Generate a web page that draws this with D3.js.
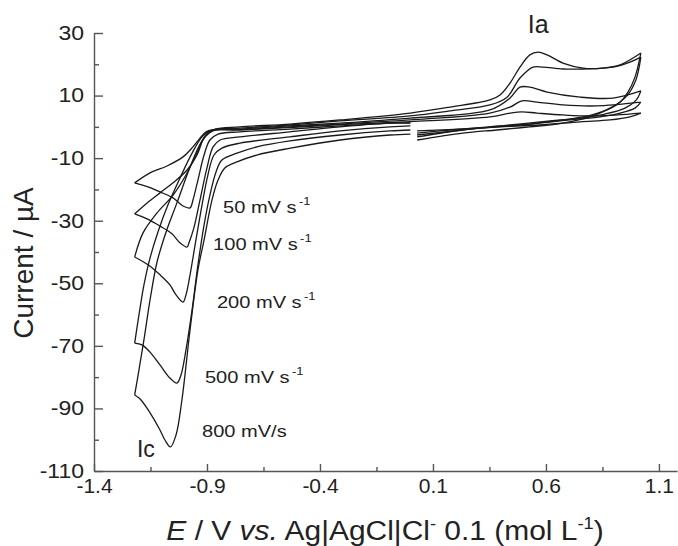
<!DOCTYPE html>
<html>
<head>
<meta charset="utf-8">
<script src="https://cdn.jsdelivr.net/npm/d3@7"></script>
<style>
  body { margin: 0; background: #fff; }
  text { font-family: "Liberation Sans", Arial, Helvetica, sans-serif; fill: #222; }
</style>
</head>
<body>
<svg id="chart" width="678" height="546"></svg>
<script>
// Axis ticks
const xTicks = [-1.4, -0.9, -0.4, 0.1, 0.6, 1.1];
const xMinorTicks = [-1.15, -0.65, -0.15, 0.35, 0.85];
const yTicks = [30, 10, -10, -30, -50, -70, -90, -110];
const yMinorTicks = [20, 0, -20, -40, -60, -80, -100];

// Scan rates (mV/s) and their voltammograms: [E / V, I / µA]
// Each scan starts near 0 V, goes negative to -1.22 V, up to +1.02 V and back.
const scanRates = [50, 100, 200, 500, 800];

const cv50 = [
  [0.00, 1.3], [-0.09, 1.2], [-0.311, 0.3], [-0.533, -0.7], [-0.754, -1.6], [-0.851, -2.3],
  [-0.887, -4.2], [-0.913, -9.0], [-0.940, -17.0], [-0.962, -23.4], [-0.975, -25.9],
  [-1.006, -25.3], [-1.050, -22.7], [-1.108, -20.8], [-1.161, -19.2], [-1.22, -17.9],
  [-1.152, -14.7], [-1.077, -12.5], [-1.006, -9.6], [-0.962, -6.4], [-0.931, -3.6],
  [-0.904, -1.6], [-0.878, -1.0], [-0.754, -0.9], [-0.533, -0.2], [-0.311, 0.7], [0.0, 1.7],
  [0.352, 3.2], [0.441, 4.4], [0.494, 4.8], [0.560, 4.4], [0.675, 3.8], [0.826, 3.5], [1.02, 4.4],
  [0.972, 3.2], [0.883, 2.2], [0.751, 1.6], [0.574, 0.6], [0.397, 0.0], [0.220, -0.7], [0.03, -1.3]
];

const cv100 = [
  [0.00, 1.2], [-0.09, 1.2], [-0.311, 0.0], [-0.533, -1.6], [-0.754, -3.2], [-0.842, -4.2],
  [-0.873, -6.4], [-0.900, -13.1], [-0.931, -23.4], [-0.958, -32.3], [-0.980, -37.1], [-0.988, -38.4],
  [-1.019, -37.1], [-1.055, -34.2], [-1.108, -31.7], [-1.165, -29.4], [-1.22, -27.8],
  [-1.165, -24.3], [-1.108, -21.1], [-1.050, -17.9], [-0.988, -13.8], [-0.944, -9.0], [-0.918, -4.2],
  [-0.896, -2.0], [-0.865, -1.0], [-0.754, -1.0], [-0.533, 0.0], [-0.311, 0.9], [0.0, 2.2],
  [0.352, 4.4], [0.441, 6.3], [0.494, 8.3], [0.560, 7.9], [0.675, 7.0], [0.826, 6.7], [1.02, 7.9],
  [0.994, 6.0], [0.928, 4.4], [0.839, 3.2], [0.706, 2.2], [0.529, 0.9], [0.352, 0.0], [0.175, -1.0], [0.03, -2.0]
];

const cv200 = [
  [0.00, 0.3], [-0.09, 0.0], [-0.311, -1.3], [-0.533, -3.2], [-0.754, -5.2], [-0.834, -6.8],
  [-0.869, -9.0], [-0.896, -15.4], [-0.922, -25.0], [-0.949, -36.2], [-0.975, -47.3], [-0.993, -53.7],
  [-1.006, -56.0], [-1.037, -53.7], [-1.064, -50.5], [-1.108, -47.3], [-1.161, -44.1], [-1.22, -41.6],
  [-1.183, -33.9], [-1.121, -27.5], [-1.050, -21.8], [-0.993, -15.4], [-0.949, -9.0], [-0.918, -4.2],
  [-0.891, -2.0], [-0.860, -1.0], [-0.754, -0.7], [-0.533, 0.3], [-0.311, 1.2], [0.0, 2.8],
  [0.352, 5.4], [0.441, 9.2], [0.485, 12.7], [0.529, 12.7], [0.605, 11.1], [0.751, 9.5], [0.897, 9.2], [1.02, 11.5],
  [1.0, 8.6], [0.950, 6.0], [0.861, 4.1], [0.751, 2.8], [0.618, 1.9], [0.441, 0.6], [0.264, -0.7], [0.03, -2.6]
];

const cv500 = [
  [0.00, -1.0], [-0.09, -1.3], [-0.311, -2.6], [-0.533, -4.5], [-0.679, -6.4], [-0.767, -8.4],
  [-0.834, -10.6], [-0.860, -14.4], [-0.887, -21.8], [-0.913, -31.4], [-0.940, -44.1], [-0.966, -58.5],
  [-0.993, -71.3], [-1.015, -79.3], [-1.033, -81.9], [-1.064, -80.3], [-1.108, -76.1], [-1.152, -72.0],
  [-1.188, -69.7], [-1.22, -69.1],
  [-1.201, -60.1], [-1.179, -50.5], [-1.152, -41.9], [-1.117, -33.6], [-1.073, -25.0], [-1.019, -16.3],
  [-0.966, -8.4], [-0.922, -3.2], [-0.887, -1.3], [-0.851, -0.7], [-0.754, -0.4], [-0.533, 0.6],
  [-0.311, 1.9], [0.0, 3.5], [0.175, 5.1], [0.352, 7.0], [0.428, 9.5], [0.485, 15.6], [0.543, 19.1],
  [0.587, 19.1], [0.675, 18.5], [0.764, 18.5], [0.897, 19.1], [0.972, 20.7], [1.02, 22.3],
  [0.998, 15.0], [0.958, 9.9], [0.892, 6.3], [0.804, 3.8], [0.675, 2.2], [0.529, 0.9], [0.383, 0.0],
  [0.233, -1.0], [0.03, -3.2]
];

const cv800 = [
  [0.00, -2.3], [-0.09, -2.6], [-0.31, -4.2], [-0.53, -6.8], [-0.68, -9.0], [-0.767, -11.2],
  [-0.82, -13.1], [-0.851, -17.0], [-0.878, -23.4], [-0.913, -36.2], [-0.940, -45.7], [-0.975, -64.9],
  [-1.011, -87.3], [-1.037, -98.5], [-1.062, -102.3], [-1.086, -100.1], [-1.108, -96.9], [-1.152, -91.4],
  [-1.196, -87.0], [-1.22, -85.7],
  [-1.201, -77.7], [-1.179, -68.1], [-1.152, -55.3], [-1.121, -43.2], [-1.081, -33.6], [-1.033, -24.3],
  [-0.980, -13.8], [-0.935, -6.1], [-0.900, -2.3], [-0.865, -0.7], [-0.754, 0.0], [-0.533, 0.9],
  [-0.311, 2.2], [0.0, 4.4], [0.175, 6.3], [0.352, 8.6], [0.397, 10.2], [0.441, 14.0], [0.485, 19.1],
  [0.529, 23.0], [0.565, 23.9], [0.605, 23.0], [0.675, 20.4], [0.764, 18.8], [0.852, 18.8], [0.928, 19.8],
  [1.02, 23.6],
  [0.994, 15.9], [0.963, 11.1], [0.928, 7.9], [0.870, 5.4], [0.795, 3.2], [0.675, 1.2], [0.529, 0.0],
  [0.383, -1.0], [0.233, -2.0], [0.03, -4.2]
];

const voltammograms = [cv50, cv100, cv200, cv500, cv800];

// Scan-rate captions, anchored in data space [E, I]
const rateLabels = ["50 mV s", "100 mV s", "200 mV s", "500 mV s", "800 mV/s"];
const rateSuperscripts = ["-1", "-1", "-1", "-1", ""];
const rateAnchors = [[-0.829, -27.5], [-0.873, -39.4], [-0.856, -57.9], [-0.909, -81.9], [-0.922, -99.1]];
const peakLabels = ["Ia", "Ic"];
const peakAnchors = [[0.520, 30.0], [-1.210, -105.5]];

// ---------- drawing ----------
const svg = d3.select("#chart");
const x = d3.scaleLinear().domain([-1.4, 1.18]).range([94, 677]);
const y = d3.scaleLinear().domain([-110, 30]).range([471, 33]);

const axisColor = "#555";

// x axis (ticks pointing into the plot)
const gx = svg.append("g").attr("transform", `translate(0,${y(-110)})`);
gx.call(d3.axisBottom(x).tickValues(xTicks).tickSize(-7).tickSizeOuter(0).tickPadding(7)
  .tickFormat(d => d.toFixed(1)));
gx.append("g").call(d3.axisBottom(x).tickValues(xMinorTicks).tickSize(-4).tickSizeOuter(0).tickFormat(""))
  .select(".domain").remove();

// y axis
const gy = svg.append("g").attr("transform", `translate(${x(-1.4)},0)`);
gy.call(d3.axisLeft(y).tickValues(yTicks).tickSize(-9).tickSizeOuter(0).tickPadding(10)
  .tickFormat(d => String(d)));
gy.append("g").call(d3.axisLeft(y).tickValues(yMinorTicks).tickSize(-5).tickSizeOuter(0).tickFormat(""))
  .select(".domain").remove();

svg.selectAll(".domain, .tick line").attr("stroke", axisColor).attr("stroke-width", 1.4);
gx.selectAll(".tick text").attr("font-size", 21).attr("fill", "#222")
  .attr("font-family", '"Liberation Sans", Arial, sans-serif');
gy.selectAll(".tick text").attr("font-size", 20).attr("fill", "#222")
  .attr("font-family", '"Liberation Sans", Arial, sans-serif')
  .attr("x", -10 / 1.15).attr("transform", "scale(1.15,1)");

// voltammograms: each sweep segment (between potential vertices) drawn as a smooth path
const line = d3.line().x(d => x(d[0])).y(d => y(d[1])).curve(d3.curveCatmullRom.alpha(0.5));
const plot = svg.append("g");
voltammograms.forEach(cv => {
  const iMin = d3.minIndex(cv, d => d[0]);
  const iMax = d3.maxIndex(cv, d => d[0]);
  const segments = [cv.slice(0, iMin + 1), cv.slice(iMin, iMax + 1), cv.slice(iMax)];
  segments.forEach(seg => {
    plot.append("path").attr("d", line(seg))
      .attr("fill", "none").attr("stroke", "#1a1a1a").attr("stroke-width", 1.3)
      .attr("stroke-linejoin", "round");
  });
});

// scan-rate captions
rateLabels.forEach((label, i) => {
  const [e, cur] = rateAnchors[i];
  const g = svg.append("g").attr("transform", `translate(${x(e)},${y(cur)}) scale(1.18,1)`);
  const t = g.append("text").attr("font-size", 17);
  t.append("tspan").text(label);
  if (rateSuperscripts[i]) {
    t.append("tspan").attr("font-size", 11).attr("dx", 2).attr("dy", -8).text(rateSuperscripts[i]);
  }
});

// peak labels
peakLabels.forEach((label, i) => {
  const [e, cur] = peakAnchors[i];
  svg.append("text").attr("x", x(e)).attr("y", y(cur))
    .attr("font-size", i === 0 ? 25 : 23).text(label);
});

// axis titles
svg.append("text")
  .attr("transform", `translate(33,263) rotate(-90)`)
  .attr("text-anchor", "middle").attr("font-size", 28)
  .text("Current / \u00B5A");

const xt = svg.append("text").attr("transform", "translate(385,540) scale(1.07,1)")
  .attr("text-anchor", "middle").attr("font-size", 28);
xt.append("tspan").attr("font-style", "italic").text("E");
xt.append("tspan").text(" / V ");
xt.append("tspan").attr("font-style", "italic").text("vs.");
xt.append("tspan").text(" Ag|AgCl|Cl");
xt.append("tspan").attr("font-size", 17).attr("dy", -11).text("-");
xt.append("tspan").attr("dy", 11).text(" 0.1 (mol L");
xt.append("tspan").attr("font-size", 17).attr("dy", -11).text("-1");
xt.append("tspan").attr("dy", 11).text(")");
</script>
</body>
</html>
